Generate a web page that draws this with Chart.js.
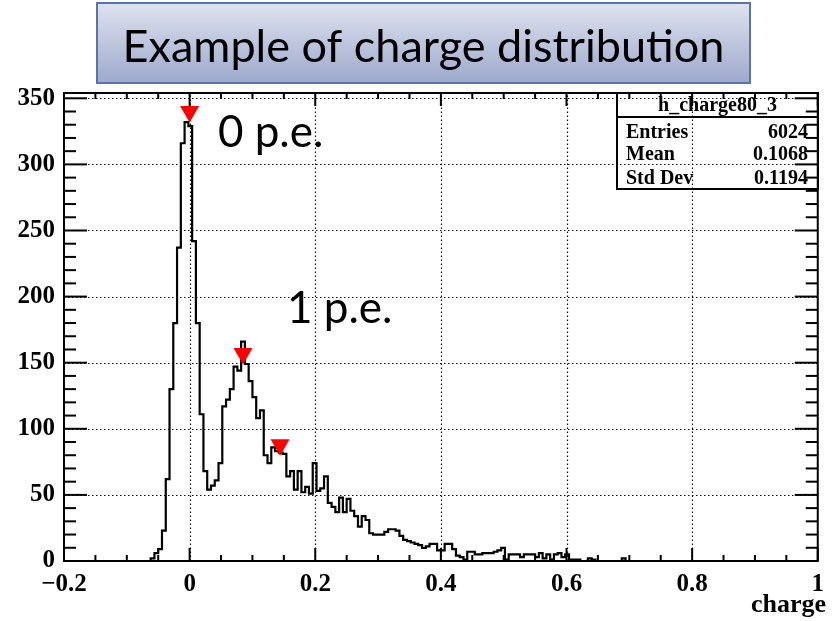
<!DOCTYPE html>
<html><head><meta charset="utf-8">
<script src="https://cdn.jsdelivr.net/npm/chart.js@4.4.0/dist/chart.umd.min.js"></script>
<style>html,body{margin:0;padding:0;background:#fff;overflow:hidden}canvas{display:block}</style>
</head><body>
<canvas id="c" width="833" height="621"></canvas>
<script>
// ---- histogram definition (ROOT TH1: 200 bins from -0.2 to 1.0) ----
const binStart = -0.2;
const binWidth = 0.006;
const nBins = 200;
const firstFilledBin = 24;
// bin contents starting at bin index 24 (low edge -0.056)
const counts = [
  2, 6, 9, 23, 62, 130, 180, 237, 316, 332, 329, 242, 180, 111, 68,
  54, 57, 61, 74, 117, 122, 130, 147, 144, 166, 149, 136, 124, 108, 114,
  80, 74, 86, 83, 82, 81, 64, 68, 54, 68, 52, 56, 51, 74, 53,
  55, 64, 44, 41, 37, 48, 37, 47, 38, 34, 26, 34, 31, 21, 20,
  20, 20, 22, 24, 24, 23, 19, 16, 15, 14, 13, 12, 10, 11, 13,
  13, 8, 8, 13, 13, 9, 4, 3, 1, 7, 7, 5, 5, 6, 6,
  6, 7, 8, 10, 1, 5, 5, 5, 3, 5, 5, 5, 3, 6, 2,
  5, 1, 5, 6, 3, 5, 1, 1, 1, 0, 0, 2, 1, 0, 0,
  0, 0, 0, 0, 0, 2, 0
];
const xTicks = [-0.2, 0, 0.2, 0.4, 0.6, 0.8, 1];
const yTicks = [0, 50, 100, 150, 200, 250, 300, 350];
const xMinorDiv = 4;
const yMinorDiv = 5;
const yMax = 354;
// peak markers (red down-triangles)
const markerX = [0.0, 0.085, 0.144];
const markerY = [340, 157, 88];
// labels
const chartTitle = 'Example of charge distribution';
const xAxisTitle = 'charge';
const peakLabels = ['0 p.e.', '1 p.e.'];
const peakLabelX = [0.045, 0.155];
const peakLabelY = [313, 180];
const statsName = 'h_charge80_3';
const statsLabels = ['Entries', 'Mean', 'Std Dev'];
const statsValues = ['6024', '0.1068', '0.1194'];

// ---- build library data ----
const histPoints = [];
for (let i = 0; i < nBins; i++) {
  const j = i - firstFilledBin;
  const c = (j >= 0 && j < counts.length) ? counts[j] : 0;
  histPoints.push({x: binStart + i * binWidth, y: c});
}
histPoints.push({x: binStart + nBins * binWidth, y: 0});
const markerPoints = markerX.map((x, i) => ({x: x, y: markerY[i]}));

const fmt = v => { const r = Math.round(v * 10) / 10; return r < 0 ? '\u2212' + Math.abs(r) : String(r); };
const serifBold = (s) => 'bold ' + s + 'px "Liberation Serif", "Times New Roman", serif';

const rootStyle = {
  id: 'rootStyle',
  beforeDatasetsDraw(chart) {
    const {ctx, chartArea: a, scales: {x, y}} = chart;
    ctx.save();
    ctx.strokeStyle = '#111';
    ctx.lineWidth = 1.2;
    ctx.setLineDash([1.5, 2.5]);
    xTicks.forEach(v => {
      const px = Math.round(x.getPixelForValue(v)) + 0.5;
      if (px <= a.left + 1 || px >= a.right - 1) return;
      ctx.beginPath(); ctx.moveTo(px, a.bottom); ctx.lineTo(px, a.top); ctx.stroke();
    });
    yTicks.forEach(v => {
      const py = Math.round(y.getPixelForValue(v)) + 0.5;
      if (py >= a.bottom - 1 || py <= a.top + 1) return;
      ctx.beginPath(); ctx.moveTo(a.left, py); ctx.lineTo(a.right, py); ctx.stroke();
    });
    ctx.restore();
  },
  afterDatasetsDraw(chart) {
    const {ctx, chartArea: a, scales: {x, y}} = chart;
    ctx.save();
    ctx.setLineDash([]);
    ctx.strokeStyle = '#000';
    // frame
    ctx.lineWidth = 2;
    ctx.strokeRect(a.left, a.top, a.right - a.left, a.bottom - a.top);
    // ticks
    ctx.lineWidth = 2;
    const xt = (px, len) => {
      ctx.beginPath(); ctx.moveTo(px, a.bottom); ctx.lineTo(px, a.bottom - len); ctx.stroke();
      ctx.beginPath(); ctx.moveTo(px, a.top); ctx.lineTo(px, a.top + len); ctx.stroke();
    };
    const yt = (py, len) => {
      ctx.beginPath(); ctx.moveTo(a.left, py); ctx.lineTo(a.left + len, py); ctx.stroke();
      ctx.beginPath(); ctx.moveTo(a.right, py); ctx.lineTo(a.right - len, py); ctx.stroke();
    };
    for (let i = 0; i < xTicks.length; i++) {
      xt(x.getPixelForValue(xTicks[i]), 13);
      if (i < xTicks.length - 1) {
        for (let j = 1; j < xMinorDiv; j++) {
          xt(x.getPixelForValue(xTicks[i] + (xTicks[i + 1] - xTicks[i]) * j / xMinorDiv), 6);
        }
      }
    }
    const yStep = yTicks[1] - yTicks[0];
    for (let i = 0; i < yTicks.length; i++) {
      yt(y.getPixelForValue(yTicks[i]), 23);
      for (let j = 1; j < yMinorDiv; j++) {
        const v = yTicks[i] + yStep * j / yMinorDiv;
        if (v < yMax) yt(y.getPixelForValue(v), 12);
      }
    }
    // stats box
    const bx0 = 617, bx1 = 818, by0 = a.top, by1 = 189, hy = 117;
    ctx.lineWidth = 2;
    ctx.strokeRect(bx0, by0, bx1 - bx0, by1 - by0);
    ctx.beginPath(); ctx.moveTo(bx0, hy); ctx.lineTo(bx1, hy); ctx.stroke();
    ctx.fillStyle = '#000';
    ctx.font = serifBold(20);
    ctx.textBaseline = 'alphabetic';
    ctx.textAlign = 'center';
    ctx.fillText(statsName, (bx0 + bx1) / 2, 111);
    const rowBase = [138, 160, 184];
    statsLabels.forEach((t, i) => {
      ctx.textAlign = 'left'; ctx.fillText(t, 626, rowBase[i]);
      ctx.textAlign = 'right'; ctx.fillText(statsValues[i], 808, rowBase[i]);
    });
    // peak labels
    ctx.font = '44px Lato, "Open Sans", sans-serif';
    ctx.textAlign = 'left';
    peakLabels.forEach((t, i) => {
      ctx.fillText(t, x.getPixelForValue(peakLabelX[i]), y.getPixelForValue(peakLabelY[i]));
    });
    // axis title
    ctx.font = serifBold(26);
    ctx.textAlign = 'right';
    ctx.fillText(xAxisTitle, 826, 612);
    // slide title box
    const tx0 = 97, tx1 = 750, ty0 = 3, ty1 = 83;
    const g = ctx.createLinearGradient(0, ty0, 0, ty1);
    g.addColorStop(0, '#dfe3ee');
    g.addColorStop(1, '#9da9cd');
    ctx.fillStyle = g;
    ctx.fillRect(tx0, ty0, tx1 - tx0, ty1 - ty0);
    ctx.strokeStyle = '#5a72ad';
    ctx.lineWidth = 2;
    ctx.strokeRect(tx0, ty0, tx1 - tx0, ty1 - ty0);
    ctx.fillStyle = '#000';
    ctx.font = '45px Lato, "Open Sans", sans-serif';
    ctx.textAlign = 'center';
    ctx.fillText(chartTitle, (tx0 + tx1) / 2, 62);
    ctx.restore();
  }
};

new Chart(document.getElementById('c').getContext('2d'), {
  type: 'line',
  data: {
    datasets: [
      {type: 'scatter', data: markerPoints, pointStyle: 'triangle', rotation: 180, pointRadius: 11,
       backgroundColor: '#ff0000', borderColor: '#ff0000', borderWidth: 0, order: 1},
      {data: histPoints, stepped: 'after', borderColor: '#000', borderWidth: 2.2, pointRadius: 0,
       fill: false, order: 2}
    ]
  },
  options: {
    responsive: false, animation: false, devicePixelRatio: 1,
    layout: {padding: {top: 93, right: 5, left: 0, bottom: 0}, autoPadding: false},
    plugins: {legend: {display: false}, tooltip: {enabled: false}, title: {display: false}},
    scales: {
      x: {
        type: 'linear', min: -0.2, max: 1,
        afterBuildTicks: s => { s.ticks = xTicks.map(v => ({value: v})); },
        afterFit: s => { s.height = 60; },
        grid: {display: false, drawTicks: false}, border: {display: false},
        ticks: {autoSkip: false, maxRotation: 0, padding: 9, color: '#000',
                font: {family: '"Liberation Serif", serif', weight: 'bold', size: 25},
                callback: v => fmt(v)}
      },
      y: {
        type: 'linear', min: 0, max: yMax,
        afterBuildTicks: s => { s.ticks = yTicks.map(v => ({value: v})); },
        afterFit: s => { s.width = 64; },
        grid: {display: false, drawTicks: false}, border: {display: false},
        ticks: {autoSkip: false, padding: 9, color: '#000',
                font: {family: '"Liberation Serif", serif', weight: 'bold', size: 25},
                callback: v => String(v)}
      }
    }
  },
  plugins: [rootStyle]
});
</script>
</body></html>
